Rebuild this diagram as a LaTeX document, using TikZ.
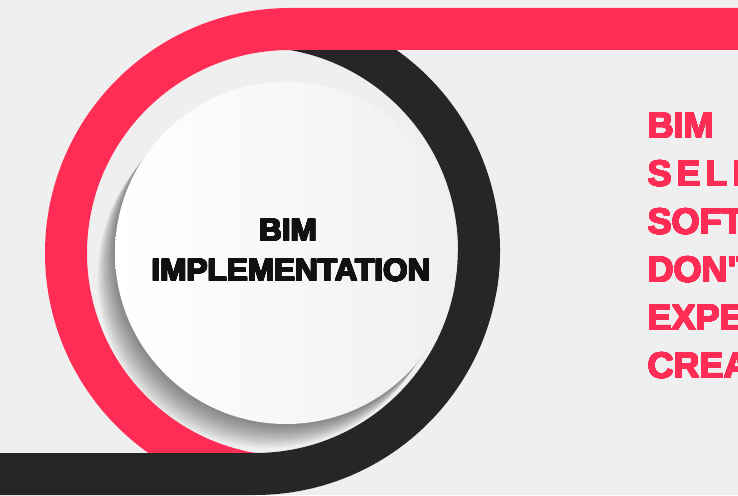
\documentclass[tikz,border=0pt]{standalone}
\usepackage{fontspec}
\usepackage{contour}
\setmainfont{Liberation Sans}
\contourlength{0.7pt}
\contournumber{24}
\definecolor{rouge}{HTML}{FF2D55}
\definecolor{noir}{HTML}{262626}
\definecolor{fond}{HTML}{EFEFEF}
\definecolor{encre}{HTML}{111111}
\tikzset{
  bande/.style={line width=42pt},
  disque/.style={circle, minimum size=342pt, inner sep=0pt, left color=white, right color=black!6},
  titre/.style={font=\bfseries\fontsize{31.5}{36}\selectfont, text=encre, anchor=base, inner sep=0pt},
  cote/.style={font=\bfseries\fontsize{36}{40}\selectfont, text=rouge, anchor=base west, inner sep=0pt}
}
\begin{document}
\begin{tikzpicture}[x=1pt, y=-1pt]
  % dessiner le fond
  \fill[fill=fond] (0,0) rectangle (738,495);
  \useasboundingbox (0,0) rectangle (738,495);
  \clip (0,0) rectangle (738,495);
  \pgfmathsetmacro\rayon{224}

  % dessiner la bande noire (haut, sous la bande rouge)
  \begin{scope}
    \clip (0,30) rectangle (738,495);
    \draw[bande, noir] (255,250) ++(10:\rayon) arc[start angle=10, end angle=-90, radius=\rayon];
  \end{scope}

  % dessiner la bande rouge
  \draw[bande, rouge] (745,29) -- (290,29) arc[start angle=-90, end angle=-260, radius=\rayon];

  % dessiner la bande noire (bas)
  \draw[bande, noir] (-5,474) -- (255,474) arc[start angle=90, end angle=0, radius=\rayon];

  % dessiner l'ombre puis le disque
  \coordinate (centre) at (286,253);
  \foreach \i in {1,...,16}
    \fill[black, opacity=0.03] ([shift={(-1.1*\i,1.5*\i)}]centre) circle (171);
  \node[disque] (disque) at (centre) {};

  % le titre
  \node[titre] (bim) at (288,241) {\contour{encre}{BIM}};
  \node[titre] (implementation) at (291,281) {\contour{encre}{IMPLEMENTATION}};

  % le texte de droite
  \foreach \ligne [count=\k] in {BIM, {S\hspace{5pt}E\hspace{5pt}L\hspace{5pt}E}, SOFT, {DON\textquotesingle T}, EXPE, CREA}
    \node[cote] (ligne\k) at (648,90+48*\k) {\contour{rouge}{\ligne}};
\end{tikzpicture}
\end{document}
